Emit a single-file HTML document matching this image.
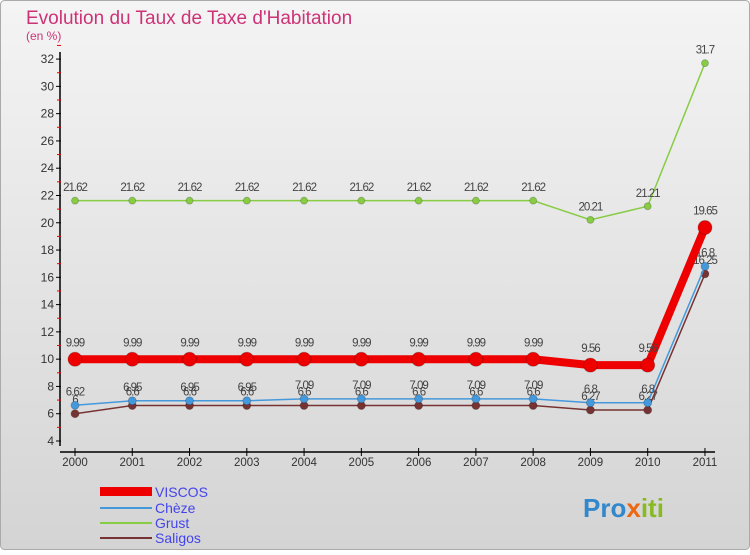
<!DOCTYPE html>
<html><head><meta charset="utf-8"><style>
body{margin:0;width:750px;height:550px;overflow:hidden;font-family:"Liberation Sans",sans-serif}
</style></head><body>
<svg id="c" width="750" height="550" xmlns="http://www.w3.org/2000/svg">
<defs><linearGradient id="bg" x1="0" y1="0" x2="0" y2="1"><stop offset="0" stop-color="#f4f4f4"/><stop offset="1" stop-color="#d4d4d4"/></linearGradient></defs>
<rect x="0.5" y="0.5" width="749" height="549" rx="4" fill="url(#bg)" stroke="#aaa"/>
<text x="26" y="24" font-size="19" fill="#cc3377">Evolution du Taux de Taxe d'Habitation</text>
<text x="26" y="40" font-size="12" fill="#cc3377">(en %)</text>
<g id="axes"></g><g id="series"></g>
<g>
<rect x="100" y="487" width="52" height="9" fill="#ee0000"/>
<text x="155" y="497" font-size="14" fill="#4444ee">VISCOS</text>
<rect x="100" y="507" width="52" height="2" fill="#4499dd"/>
<text x="155" y="513" font-size="14" fill="#4444ee">Chèze</text>
<rect x="100" y="522" width="52" height="2" fill="#88cc44"/>
<text x="155" y="528" font-size="14" fill="#4444ee">Grust</text>
<rect x="100" y="537" width="52" height="2" fill="#773333"/>
<text x="155" y="543" font-size="14" fill="#4444ee">Saligos</text>
</g>
<text x="583" y="517" font-size="26" font-weight="bold" fill="#3388cc">Pro<tspan fill="#ee6611">x</tspan><tspan fill="#88bb22">iti</tspan></text>
</svg>
<script>
const years=[2000,2001,2002,2003,2004,2005,2006,2007,2008,2009,2010,2011];
const yTicks=[4,6,8,10,12,14,16,18,20,22,24,26,28,30,32];
const viscos=[9.99,9.99,9.99,9.99,9.99,9.99,9.99,9.99,9.99,9.56,9.56,19.65];
const cheze=[6.62,6.95,6.95,6.95,7.09,7.09,7.09,7.09,7.09,6.8,6.8,16.8];
const grust=[21.62,21.62,21.62,21.62,21.62,21.62,21.62,21.62,21.62,20.21,21.21,31.7];
const saligos=[6,6.6,6.6,6.6,6.6,6.6,6.6,6.6,6.6,6.27,6.27,16.25];
const NS="http://www.w3.org/2000/svg";
const X=i=>75+i*57.27, Y=v=>441-(v-4)*13.64;
function mk(t,a,p){const e=document.createElementNS(NS,t);for(const k in a)e.setAttribute(k,a[k]);p.appendChild(e);return e;}
const ax=document.getElementById('axes');
const yl=mk('line',{x1:60,y1:52,x2:60,y2:446,stroke:'#000','stroke-width':1.5},ax);


const xl=mk('line',{x1:60,y1:452,x2:715,y2:452,stroke:'#000','stroke-width':1.5},ax);


yTicks.forEach(v=>{
  mk('line',{x1:56,y1:Y(v),x2:61,y2:Y(v),stroke:'#000'},ax);
  mk('line',{x1:57,y1:Y(v+1),x2:61,y2:Y(v+1),stroke:'#e00'},ax);
  const t=mk('text',{x:54,y:Y(v)+4,'text-anchor':'end','font-size':12,fill:'#333'},ax);t.textContent=v;
  
  
});
years.forEach((y,i)=>{
  mk('line',{x1:X(i),y1:448,x2:X(i),y2:456,stroke:'#000'},ax);
  const t=mk('text',{x:X(i),y:466,'text-anchor':'middle','font-size':11.5,fill:'#333'},ax);t.textContent=y;
  
  
});
const sg=document.getElementById('series');
function series(d,col,w,r,name){
  const g=mk('g',{},sg);
  
  
  mk('polyline',{points:d.map((v,i)=>X(i)+','+Y(v)).join(' '),fill:'none',stroke:col,'stroke-width':w},g);
  d.forEach((v,i)=>{
    const c=mk('circle',{cx:X(i),cy:Y(v),r:r,fill:col,stroke:'rgba(0,0,0,0.2)'},g);
    
    
    const t=mk('text',{x:X(i),y:Y(v)-(r+6),'text-anchor':'middle','font-size':11.5,fill:'#444','letter-spacing':-1},g);
    t.textContent=String(v);
    
    
  });
}
series(grust,'#88cc44',1.5,3.5,'series-grust');
series(saligos,'#773333',1.5,4,'series-saligos');
series(cheze,'#4499dd',1.5,4,'series-cheze');
series(viscos,'#ee0000',8,7,'series-viscos');
</script>
</body></html>
